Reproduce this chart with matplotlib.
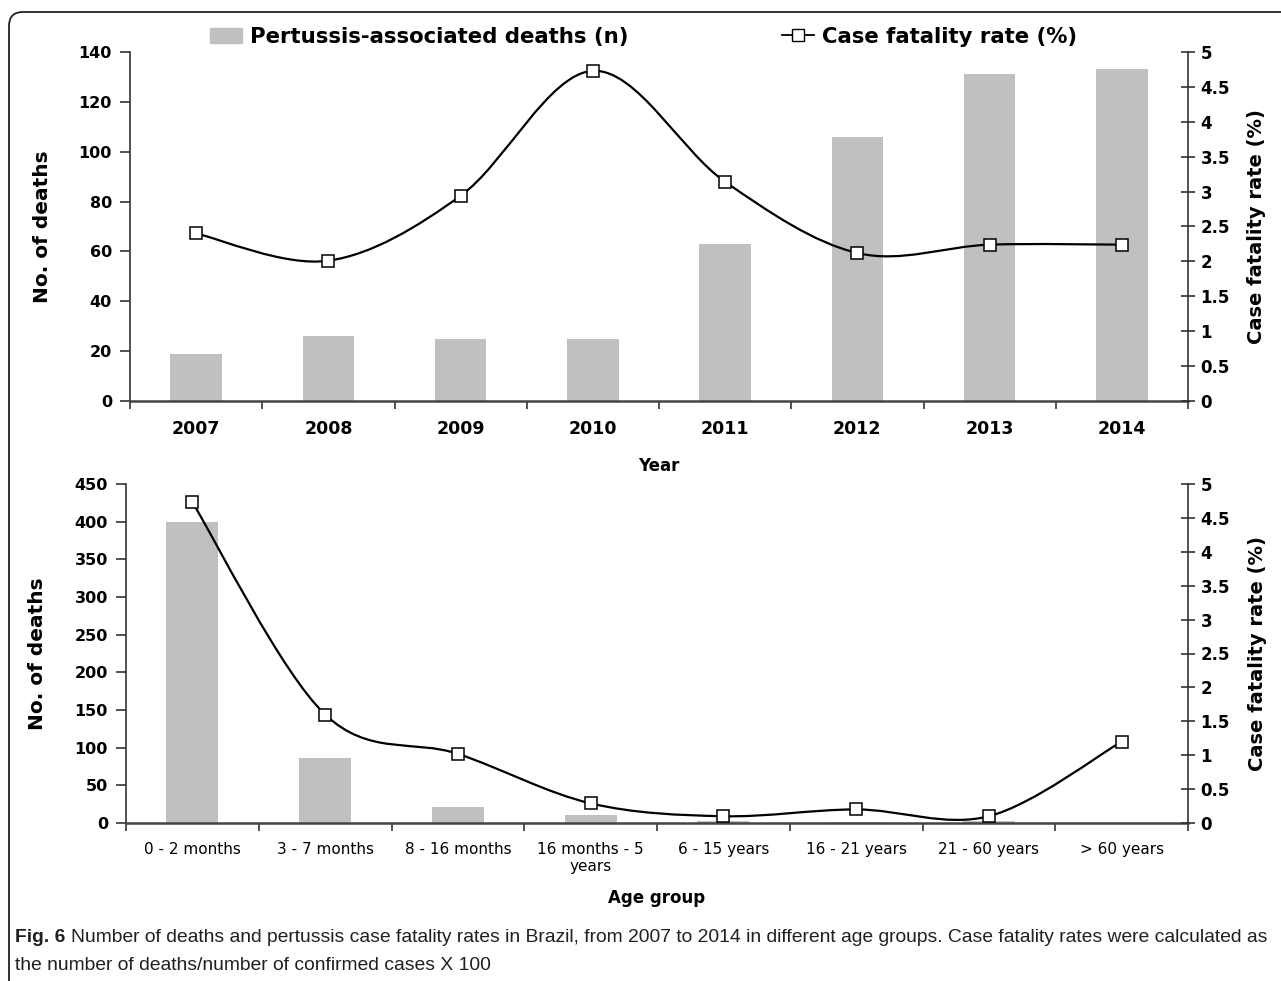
import numpy as np
import matplotlib
matplotlib.use('Agg')
import matplotlib.pyplot as plt
from matplotlib.path import Path
from matplotlib.patches import PathPatch, Patch
from matplotlib.lines import Line2D

# data
years = ['2007', '2008', '2009', '2010', '2011', '2012', '2013', '2014']
deaths_year = [19, 26, 25, 25, 63, 106, 131, 133]
cfr_year = [2.40, 2.01, 2.94, 4.73, 3.14, 2.12, 2.24, 2.24]

age_groups = ['0 - 2 months', '3 - 7 months', '8 - 16 months', '16 months - 5\nyears',
              '6 - 15 years', '16 - 21 years', '21 - 60 years', '> 60 years']
deaths_age = [400, 86, 21, 10, 2, 1, 2, 0]
cfr_age = [4.73, 1.60, 1.02, 0.29, 0.10, 0.20, 0.10, 1.20]

caption_bold = 'Fig. 6'
caption_1 = ('Number of deaths and pertussis case fatality rates in Brazil, from 2007 to 2014 in '
             'different age groups. Case fatality rates were calculated as')
caption_2 = 'the number of deaths/number of confirmed cases X 100'

W, H = 1281, 981
BAR = '#c0c0c0'
AXC = '#333333'

plt.rcParams['font.family'] = 'DejaVu Sans'
plt.rcParams['font.weight'] = 'bold'


def smooth_path(x, y):
    # excel-like smoothed line (catmull-rom as cubic bezier)
    pts = np.column_stack([x, y]).astype(float)
    n = len(pts)
    verts = [pts[0]]
    codes = [Path.MOVETO]
    for i in range(n - 1):
        p0 = pts[max(i - 1, 0)]
        p1 = pts[i]
        p2 = pts[i + 1]
        p3 = pts[min(i + 2, n - 1)]
        verts += [p1 + (p2 - p0) / 6, p2 - (p3 - p1) / 6, p2]
        codes += [Path.CURVE4] * 3
    return Path(verts, codes)


def panel(rect, cats, deaths, cfr, ymax, ystep, xlabel, xlab_y, tick_bold, tick_pad):
    ax = fig.add_axes(rect)
    x = np.arange(len(cats))
    ax.bar(x, deaths, width=0.39, color=BAR, zorder=1)
    ax.set_xlim(-0.5, len(cats) - 0.5)
    ax.set_ylim(0, ymax)
    ax.set_yticks(np.arange(0, ymax + 1, ystep))
    ax.set_xticks(x)
    ax.set_xticklabels(cats, fontweight='bold' if tick_bold else 'normal',
                       fontsize=12.5 if tick_bold else 11, linespacing=1.15)
    ax.set_xticks(np.arange(-0.5, len(cats), 1), minor=True)
    ax.tick_params(axis='x', which='major', length=0, pad=tick_pad)
    ax.tick_params(axis='x', which='minor', length=6, width=1.2, direction='out', color=AXC)
    ax.tick_params(axis='y', length=7, width=1.2, direction='out', pad=6, labelsize=11.5, color=AXC)
    for s in ['top', 'right']:
        ax.spines[s].set_visible(False)
    ax.spines['left'].set_color(AXC)
    ax.spines['left'].set_linewidth(1.2)
    ax.spines['bottom'].set_color('#444444')
    ax.spines['bottom'].set_linewidth(1.8)
    ax.set_ylabel('No. of deaths', fontsize=14.5, fontweight='bold', va='center')
    ax.yaxis.set_label_coords(-0.083, 0.5)
    ax.set_xlabel(xlabel, fontsize=12, fontweight='bold', va='center')
    ax.xaxis.set_label_coords(0.5, xlab_y)

    ax2 = ax.twinx()
    ax2.set_ylim(0, 5)
    ticks = np.arange(0, 5.01, 0.5)
    ax2.set_yticks(ticks)
    ax2.set_yticklabels(['%g' % t for t in ticks])
    ax2.tick_params(axis='y', length=10, width=1.2, direction='inout', pad=4, labelsize=12, color=AXC)
    for s in ['top', 'left', 'bottom']:
        ax2.spines[s].set_visible(False)
    ax2.spines['right'].set_color(AXC)
    ax2.spines['right'].set_linewidth(1.2)
    ax2.add_patch(PathPatch(smooth_path(x, cfr), fill=False, ec='black', lw=1.6, zorder=2))
    ax2.plot(x, cfr, 's', ms=8.3, mfc='white', mec='black', mew=1.1, zorder=3)
    ax2.set_ylabel('Case fatality rate (%)', fontsize=14, fontweight='bold', va='center')
    ax2.yaxis.set_label_coords(1.065, 0.5)
    return ax, ax2


fig = plt.figure(figsize=(W / 100, H / 100), dpi=100)

ax_top, ax_top2 = panel([130 / W, 1 - 401 / H, 1058 / W, 349 / H], years, deaths_year, cfr_year,
                        140, 20, 'Year', -0.186, True, 14)
ax_bot, ax_bot2 = panel([126 / W, 1 - 823 / H, 1062 / W, 339 / H], age_groups, deaths_age, cfr_age,
                        450, 50, 'Age group', -0.221, False, 14)

# legend across the top
handles = [Patch(color=BAR),
           Line2D([0], [0], color='black', lw=1.3, marker='s', ms=8, mfc='white', mec='black')]
fig.legend(handles, ['Pertussis-associated deaths (n)', 'Case fatality rate (%)'],
           loc='center left', bbox_to_anchor=(210 / W, 1 - 37 / H), ncol=2, frameon=False,
           prop={'weight': 'bold', 'size': 15.3}, handlelength=1.5, handleheight=0.75,
           handletextpad=0.4, columnspacing=7.2, borderaxespad=0, borderpad=0)

# frame round the figure (top and left edges, rounded corner)
r = 14
fr = Path([(9, -5), (9, H - 12 - r), (9, H - 12), (9 + r, H - 12), (W + 5, H - 12)],
          [Path.MOVETO, Path.LINETO, Path.CURVE3, Path.CURVE3, Path.LINETO])
fr = Path(fr.vertices / 100.0, fr.codes)
fig.add_artist(PathPatch(fr, fill=False, ec='#222222', lw=1.3, transform=fig.dpi_scale_trans))

# caption, sized so that the first line spans the frame like the original
cap_family = ['Liberation Sans Narrow', 'Liberation Sans']
cap_fs = 13.0
t1 = fig.text(15 / W, 1 - 937 / H, caption_bold, fontsize=cap_fs, fontweight='bold',
              family=cap_family, va='center', color='#231f20')
t2 = fig.text(0, 1 - 937 / H, caption_1, fontsize=cap_fs, fontweight='normal',
              family=cap_family, va='center', color='#231f20')
t3 = fig.text(15 / W, 1 - 965 / H, caption_2, fontsize=cap_fs, fontweight='normal',
              family=cap_family, va='center', color='#231f20')
fig.canvas.draw()
rend = fig.canvas.get_renderer()
w1 = t1.get_window_extent(rend).width
w2 = t2.get_window_extent(rend).width
gap = 0.3 * cap_fs * 100 / 72
scale = (1264 - 15) / (w1 + gap + w2)
for t in (t1, t2, t3):
    t.set_fontsize(cap_fs * scale)
fig.canvas.draw()
bb = t1.get_window_extent(rend)
t2.set_x((bb.x1 + gap * scale) / W)

fig.savefig('out.png', dpi=100)
